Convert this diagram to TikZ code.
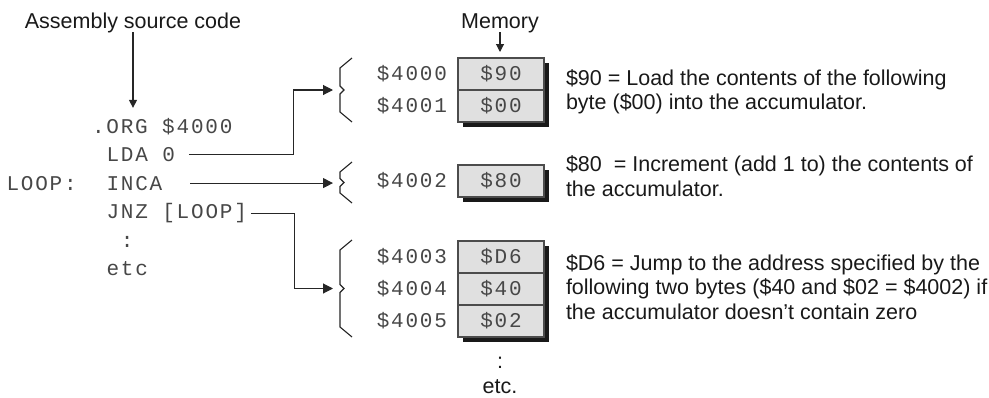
\documentclass[tikz,border=0pt]{standalone}
\usepackage{fontspec}
\setmainfont{Liberation Sans}
\newfontfamily\codefont{Liberation Mono}[LetterSpace=8.6]
\usetikzlibrary{arrows.meta,positioning,backgrounds}

\begin{document}
\begin{tikzpicture}[x=1pt, y=-1pt, >={Triangle[length=10pt,width=10pt]},
	every node/.style={inner sep=0pt, outer sep=0pt},
	txt/.style={font=\fontsize{21.5}{24.8}\selectfont, text=black!90},
	code/.style={font=\fontsize{21}{28}\selectfont\codefont, text=black!72, anchor=base west},
	cell/.style={code, anchor=center, draw=black!70, line width=1.1pt, fill=black!12, minimum width=86pt, minimum height=32pt},
	addr/.style={code, anchor=east},
	link/.style={->, line width=1.1pt, black!85},
	down/.style={link, >={Triangle[length=8pt,width=8pt]}},
	brace/.style={line width=1.1pt, black!85}]
	\useasboundingbox (0,0) rectangle (989,397);
	% source code
	\node[txt, anchor=base] (asm) at (133,28) {Assembly source code};
	\node[code] (org) at (92,133) {.ORG \$4000};
	\node[code] (lda) at (106.5,161.5) {LDA 0};
	\node[code] (loop) at (6.5,190) {LOOP:};
	\node[code] (inca) at (106.5,190) {INCA};
	\node[code] (jnz) at (106.5,218.5) {JNZ [LOOP]};
	\node[code] (cdots) at (120.9,247) {:};
	\node[code] (cetc) at (106.5,275) {etc};
	\draw[down, shorten >=10pt] (asm.south) -- (asm.south |- org.north);
	% memory
	\node[txt, anchor=base] (mem) at (500,28) {Memory};
	\node[cell] (m0) at (501,74) {\$90};
	\node[cell, below=0pt of m0] (m1) {\$00};
	\node[cell] (m2) at (501,181) {\$80};
	\node[cell] (m3) at (501,257) {\$D6};
	\node[cell, below=0pt of m3] (m4) {\$40};
	\node[cell, below=0pt of m4] (m5) {\$02};
	\foreach \c/\a in {m0/4000, m1/4001, m2/4002, m3/4003, m4/4004, m5/4005}
		\node[addr, left=11pt of \c] (a\a) {\$\a};
	\begin{scope}[on background layer]
		\foreach \t/\b in {m0/m1, m2/m2, m3/m5}
			\fill[black!90] ([shift={(5,5)}]\t.north west) rectangle ([shift={(5,5)}]\b.south east);
	\end{scope}
	\draw[down, shorten >=6pt] (mem.south) -- (mem.south |- m0.north);
	\node[txt, anchor=base] (mdots) at (500,368) {:};
	\node[txt, anchor=base] (metc) at (500,393) {etc.};
	% braces
	\foreach \t/\b/\n in {58/122/1, 162/203/2, 240/337/3}{
		\pgfmathsetmacro\m{(\t+\b)/2}
		\draw[brace] (352,\t) -- (340,\t+10) -- (340,\m-4) -- (344,\m) -- (340,\m+4) -- (340,\b-10) -- (352,\b);
		\coordinate (tip\n) at (333,\m);
	}
	% connectors
	\draw[link, shorten <=14pt] (lda.east) -- ++(119,0) |- (tip1);
	\draw[link, shorten <=28pt] (inca.east) -- (inca.east -| tip2);
	\draw[link, shorten <=4pt] (jnz.east) -- ++(47.5,0) |- (tip3);
	% descriptions
	\node[txt, anchor=base west, align=left] (d0) at (566,109.8) {\$90 = Load the contents of the following\\byte (\$00) into the accumulator.};
	\node[txt, anchor=base west, align=left] (d2) at (566,196) {\$80 \ = Increment (add 1 to) the contents of\\the accumulator.};
	\node[txt, anchor=base west, align=left] (d3) at (566,319.6) {\$D6 = Jump to the address specified by the\\following two bytes (\$40 and \$02 = \$4002) if\\the accumulator doesn't contain zero};
\end{tikzpicture}
\end{document}
